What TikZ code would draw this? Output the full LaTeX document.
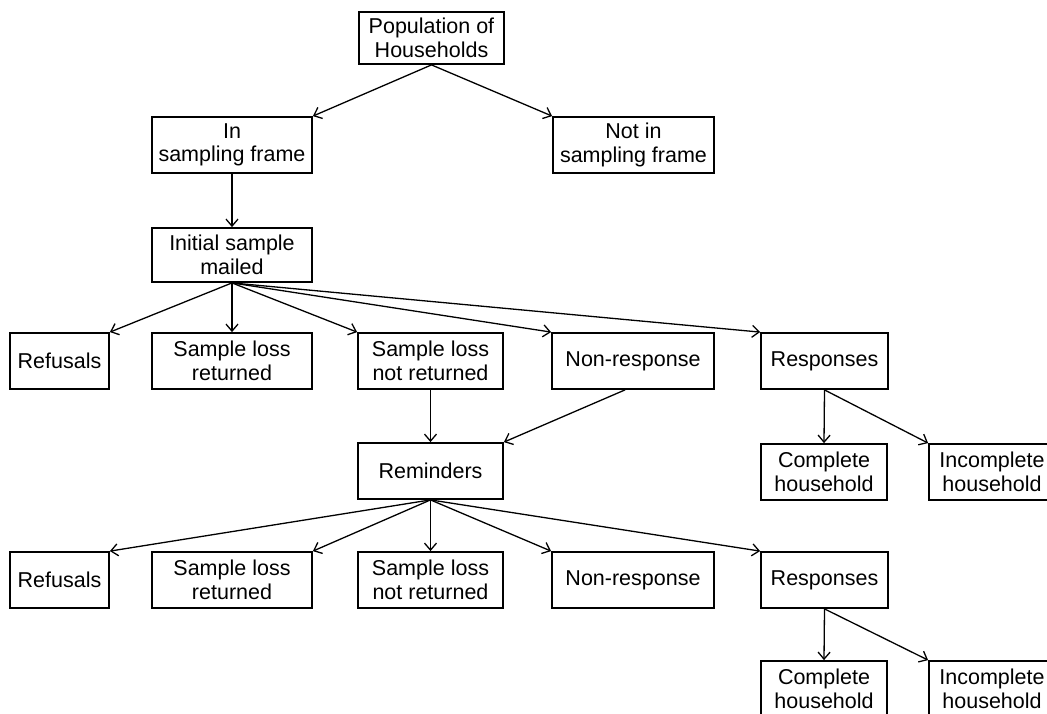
\documentclass[tikz,border=0pt]{standalone}
\usepackage{fontspec}
\setmainfont{Liberation Sans}
\usetikzlibrary{arrows.meta}
\begin{document}
\begin{tikzpicture}[x=1pt,y=-1pt,
  box/.style={draw, line width=1.8pt, align=center, inner sep=0pt,
    font=\fontsize{21.5}{23.5}\selectfont},
  link/.style={line width=1.3pt, -{Straight Barb[length=7pt,width=12pt]}}]
% page frame; the right-most boxes run past it
\clip (0,0) rectangle (1047,713);

% top of the tree
\node[box, minimum width=145pt, minimum height=52pt] (pop)   at (431.5,38) {Population of\\Households};
\node[box, minimum width=160pt, minimum height=56pt] (in)    at (232,145)  {In\\sampling frame};
\node[box, minimum width=161pt, minimum height=56pt] (notin) at (633.5,145) {Not in\\sampling frame};
\node[box, minimum width=160pt, minimum height=54pt] (init)  at (232,255)  {Initial sample\\mailed};

% outcomes of the first mailing
\node[box, minimum width=99pt,  minimum height=56pt] (refA)  at (59.5,361)  {Refusals};
\node[box, minimum width=160pt, minimum height=56pt] (slrA)  at (232,361)   {Sample loss\\returned};
\node[box, minimum width=145pt, minimum height=56pt] (slnA)  at (430.5,361) {Sample loss\\not returned};
\node[box, minimum width=162pt, minimum height=56pt] (nrA)   at (633,361)   {Non-response};
\node[box, minimum width=127pt, minimum height=56pt] (resA)  at (824.5,361) {Responses};

\node[box, minimum width=145pt, minimum height=56pt] (rem)   at (430.5,471) {Reminders};
\node[box, minimum width=126pt, minimum height=56pt] (compA) at (824,472)   {Complete\\household};
\node[box, minimum width=126pt, minimum height=56pt] (incA)  at (992,472)   {Incomplete\\household};

% outcomes after the reminders
\node[box, minimum width=99pt,  minimum height=56pt] (refB)  at (59.5,580)  {Refusals};
\node[box, minimum width=160pt, minimum height=56pt] (slrB)  at (232,580)   {Sample loss\\returned};
\node[box, minimum width=145pt, minimum height=56pt] (slnB)  at (430.5,580) {Sample loss\\not returned};
\node[box, minimum width=162pt, minimum height=56pt] (nrB)   at (633,580)   {Non-response};
\node[box, minimum width=127pt, minimum height=56pt] (resB)  at (824.5,580) {Responses};

\node[box, minimum width=126pt, minimum height=56pt] (compB) at (824,689)   {Complete\\household};
\node[box, minimum width=126pt, minimum height=56pt] (incB)  at (992,689)   {Incomplete\\household};

% connectors
\draw[link] (pop.south) -- (in.north east);
\draw[link] (pop.south) -- (notin.north west);
\draw[link] (in.south) -- (init.north);

\draw[link] (init.south) -- (refA.north east);
\draw[link] (init.south) -- (slrA.north);
\draw[link] (init.south) -- (slnA.north west);
\draw[link] (init.south) -- (nrA.north west);
\draw[link] (init.south) -- (resA.north west);

\draw[link] (slnA.south) -- (rem.north);
\draw[link] ([xshift=-8pt]nrA.south) -- (rem.north east);
\draw[link] (resA.south) -- (compA.north);
\draw[link] (resA.south) -- (incA.north west);

\draw[link] (rem.south) -- (refB.north east);
\draw[link] (rem.south) -- (slrB.north east);
\draw[link] (rem.south) -- (slnB.north);
\draw[link] (rem.south) -- (nrB.north west);
\draw[link] (rem.south) -- (resB.north west);

\draw[link] (resB.south) -- (compB.north);
\draw[link] (resB.south) -- (incB.north west);
\end{tikzpicture}
\end{document}
